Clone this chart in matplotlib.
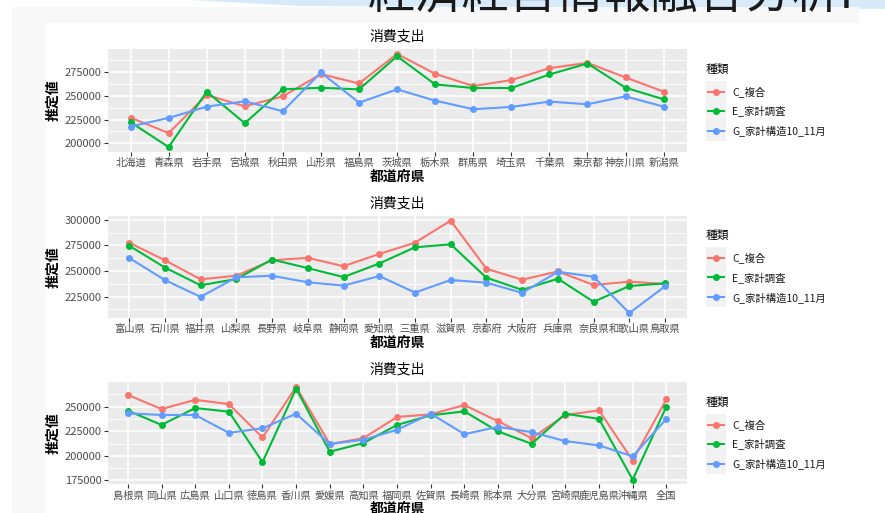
import matplotlib
matplotlib.use("Agg")
import matplotlib.pyplot as plt
from matplotlib.patches import Rectangle, Polygon
from matplotlib.lines import Line2D
import numpy as np

plt.rcParams['font.family'] = ['Noto Sans CJK JP', 'DejaVu Sans']

# ---- data ----
prefs1 = ['北海道', '青森県', '岩手県', '宮城県', '秋田県', '山形県', '福島県', '茨城県',
          '栃木県', '群馬県', '埼玉県', '千葉県', '東京都', '神奈川県', '新潟県']
c1 = [227100, 210800, 250700, 238900, 249300, 272600, 262800, 293700,
      272900, 260100, 266300, 278800, 284400, 269100, 254200]
e1 = [222200, 196200, 254200, 221200, 256600, 258300, 256600, 291300,
      261800, 258000, 258000, 272200, 283700, 258300, 246200]
g1 = [217700, 226700, 238500, 244100, 233700, 274300, 242700, 256600,
      244800, 235800, 238200, 243800, 241000, 249300, 238500]

prefs2 = ['富山県', '石川県', '福井県', '山梨県', '長野県', '岐阜県', '静岡県', '愛知県',
          '三重県', '滋賀県', '京都府', '大阪府', '兵庫県', '奈良県', '和歌山県', '鳥取県']
c2 = [277600, 260500, 241900, 245400, 260500, 262800, 254700, 266600,
      277600, 299100, 252200, 241500, 249600, 236400, 239600, 237400]
e2 = [274700, 253400, 236100, 242200, 261200, 252800, 244100, 257300,
      273100, 276000, 243500, 231600, 242500, 220000, 235400, 238000]
g2 = [262800, 241200, 224800, 243800, 245400, 239000, 235800, 245100,
      229000, 241200, 238600, 228700, 249300, 244400, 209000, 235100]

prefs3 = ['島根県', '岡山県', '広島県', '山口県', '徳島県', '香川県', '愛媛県', '高知県', '福岡県',
          '佐賀県', '長崎県', '熊本県', '大分県', '宮崎県', '鹿児島県', '沖縄県', '全国']
c3 = [262100, 247600, 257100, 252700, 218700, 270200, 212000, 218000, 239600,
      242300, 251700, 235200, 218000, 241600, 246300, 195200, 257400]
e3 = [246000, 231500, 248700, 245000, 193500, 268500, 204200, 213000, 231500,
      241300, 245300, 224800, 212300, 242900, 237600, 175700, 250000]
g3 = [243300, 241600, 241600, 223400, 228100, 242900, 212000, 216400, 226500,
      242900, 222100, 229500, 224100, 215000, 210600, 199500, 237600]

labels = ['C_複合', 'E_家計調査', 'G_家計構造10_11月']
colors = ['#F8766D', '#00BA38', '#619CFF']

panels = [(prefs1, [c1, e1, g1], 49.3, 151.7),
          (prefs2, [c2, e2, g2], 216.0, 317.7),
          (prefs3, [c3, e3, g3], 382.3, 484.3)]

W, H = 885, 513
fig = plt.figure(figsize=(W / 100, H / 100), dpi=100)
fig.patch.set_facecolor('white')


def fx(x):
    return x / W


def fy(y):
    return 1 - y / H


# slide background bits
fig.add_artist(Polygon([(fx(190), fy(0)), (fx(300), fy(6)), (fx(885), fy(9)), (fx(885), fy(0))],
                       closed=True, transform=fig.transFigure, facecolor='#d6eafa', edgecolor='none', zorder=0))
fig.add_artist(Rectangle((fx(12), fy(513)), fx(847), 506 / H, transform=fig.transFigure,
                         facecolor='#f8f8f8', edgecolor='none', zorder=0))
fig.add_artist(Rectangle((fx(46), fy(513)), fx(839), 490 / H, transform=fig.transFigure,
                         facecolor='white', edgecolor='none', zorder=0))
fig.text(fx(368), fy(8.5), '経済経営情報融合分析I', fontsize=34, color='#1a1a1a',
         ha='left', va='baseline', zorder=1)

left, right = 107.7, 686.5
for cats, series, top, bottom in panels:
    ax = fig.add_axes([fx(left), fy(bottom), (right - left) / W, (bottom - top) / H])
    ax.set_facecolor('#EBEBEB')
    x = np.arange(len(cats))
    for vals, col in zip(series, colors):
        ax.plot(x, vals, color=col, lw=1.5, marker='o', ms=4, zorder=3)

    allv = np.concatenate([np.array(s) for s in series])
    lo, hi = allv.min(), allv.max()
    pad = (hi - lo) * 0.05
    ax.set_ylim(lo - pad, hi + pad)
    ax.set_xlim(-0.6, len(cats) - 0.4)

    ticks = np.arange(150000, 325001, 25000)
    ticks = ticks[(ticks >= lo - pad) & (ticks <= hi + pad)]
    ax.set_yticks(ticks)
    minors = np.arange(ticks[0] - 12500, hi + pad, 25000)
    ax.set_yticks(minors[(minors >= lo - pad) & (minors <= hi + pad)], minor=True)
    ax.set_yticklabels([str(t) for t in ticks])
    ax.set_xticks(x)
    ax.set_xticklabels(cats)

    ax.grid(which='major', color='white', lw=1.1, zorder=0)
    ax.grid(which='minor', axis='y', color='white', lw=0.55, zorder=0)
    ax.set_axisbelow(True)
    for s in ax.spines.values():
        s.set_visible(False)
    ax.tick_params(axis='both', which='major', length=3, width=0.8, color='#333333',
                   labelcolor='#4D4D4D', pad=1.5)
    ax.tick_params(axis='y', labelsize=8)
    ax.tick_params(axis='x', labelsize=7.4)
    ax.tick_params(axis='both', which='minor', length=0)

    ax.set_title('消費支出', fontsize=10, pad=6)
    ax.set_ylabel('推定値', fontsize=10, fontweight='bold', labelpad=3)
    ax.set_xlabel('都道府県', fontsize=10, fontweight='bold', labelpad=1)

    # legend (ggplot style)
    cy = (top + bottom) / 2
    fig.text(fx(706), fy(cy - 31.2), '種類', fontsize=8.5, ha='left', va='center')
    fig.add_artist(Rectangle((fx(706), fy(cy + 40.2)), 19.5 / W, 60 / H, transform=fig.transFigure,
                             facecolor='#F2F2F2', edgecolor='none'))
    for off, lab, col in zip([-8.8, 10.5, 30.5], labels, colors):
        yy = fy(cy + off)
        fig.add_artist(Line2D([fx(708), fx(724)], [yy, yy], transform=fig.transFigure,
                              color=col, lw=1.5))
        fig.add_artist(Line2D([fx(716)], [yy], transform=fig.transFigure,
                              color=col, marker='o', ms=4, lw=0))
        fig.text(fx(732), yy, lab, fontsize=7.5, ha='left', va='center', color='#1a1a1a')

fig.savefig('out.png', dpi=100)
